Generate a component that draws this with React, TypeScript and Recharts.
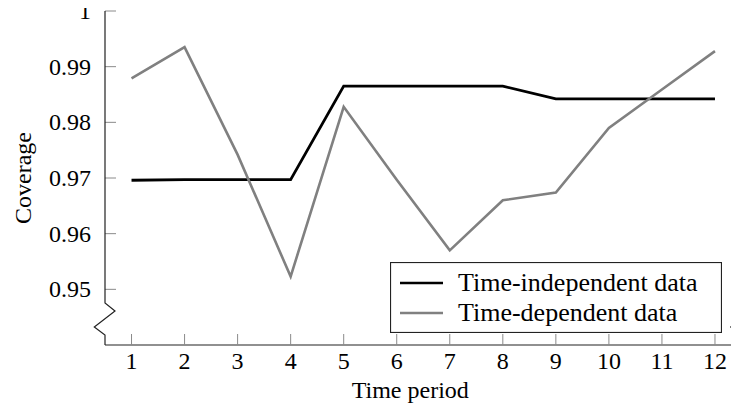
import { LineChart, Line, XAxis, YAxis, Legend, Label } from "recharts"

const periods = [1, 2, 3, 4, 5, 6, 7, 8, 9, 10, 11, 12]
const timeIndependent = [0.9696, 0.9697, 0.9697, 0.9697, 0.9865, 0.9865, 0.9865, 0.9865, 0.9842, 0.9842, 0.9842, 0.9842]
const timeDependent = [0.9879, 0.9935, 0.9742, 0.9523, 0.9828, 0.9697, 0.957, 0.966, 0.9674, 0.979, 0.9859, 0.9928]
const seriesNames = ["Time-independent data", "Time-dependent data"]
const xTicks = periods
const yTicks = [0.95, 0.96, 0.97, 0.98, 0.99, 1]

const data = periods.map((t, i) => ({ t, indep: timeIndependent[i], dep: timeDependent[i] }))

const FONT = '"Liberation Serif", "Times New Roman", "DejaVu Serif", serif'
const txt = { fontFamily: FONT }
const CHART_W = 760
const CHART_H = 414
const MARGIN = { top: 11, right: 18.5, bottom: 0, left: 0 }
const Y_AXIS_W = 105
const X_AXIS_H = 69
const PLOT_LEFT = MARGIN.left + Y_AXIS_W
const PLOT_RIGHT = CHART_W - MARGIN.right
const PLOT_BOTTOM = CHART_H - MARGIN.bottom - X_AXIS_H
const TICK_LEN = 11
const TICK_COLOR = "#8a8a8a"
const FRAME = "#222"

const BottomTick = ({ x, y, payload }: any) => (
  <g>
    <line x1={x} x2={x} y1={y} y2={y - TICK_LEN} stroke={TICK_COLOR} strokeWidth={1} />
    <text x={x} y={y + 24} textAnchor="middle" style={txt} fontSize={24} fill="#000">
      {payload.value}
    </text>
  </g>
)

const TopTick = ({ x, y }: any) => (
  <line x1={x} x2={x} y1={y} y2={y + TICK_LEN} stroke={TICK_COLOR} strokeWidth={1} />
)

const LeftTick = ({ x, y, payload }: any) => (
  <g>
    <line x1={x} x2={x + TICK_LEN} y1={y} y2={y} stroke={TICK_COLOR} strokeWidth={1} />
    <text x={x - 14} y={y + 8} textAnchor="end" style={txt} fontSize={24} fill="#000">
      {String(payload.value)}
    </text>
  </g>
)

const RightTick = ({ x, y }: any) => (
  <line x1={x} x2={x - TICK_LEN} y1={y} y2={y} stroke={TICK_COLOR} strokeWidth={1} />
)

function LegendBox({ payload }: any) {
  const colors: Record<string, string> = {}
  ;(payload || []).forEach((p: any) => (colors[p.value] = p.color))
  const items = seriesNames.map((name, i) => ({ name, color: colors[name] || (i === 0 ? "#000" : "#808080") }))
  return (
    <svg width={332} height={71} style={{ display: "block" }}>
      <rect x={0.5} y={0.5} width={331} height={70} fill="#fff" stroke={FRAME} strokeWidth={1.2} />
      {items.map((it, i) => (
        <g key={it.name}>
          <line x1={10} x2={53} y1={21 + i * 30} y2={21 + i * 30} stroke={it.color} strokeWidth={2.6} />
          <text x={68} y={21 + i * 30 + 8} style={txt} fontSize={26} fill="#000">
            {it.name}
          </text>
        </g>
      ))}
    </svg>
  )
}

// axis breaks (zigzag) on left and right y axes
function Breaks() {
  const yb = PLOT_BOTTOM - 42
  const zig = (x0: number) =>
    `M${x0},${MARGIN.top} L${x0},${yb} L${x0 + 10},${yb + 8} L${x0 - 10.7},${yb + 24} L${x0},${yb + 32} L${x0},${PLOT_BOTTOM}`
  return (
    <svg width={CHART_W} height={CHART_H} style={{ position: "absolute", left: 0, top: 0, pointerEvents: "none" }}>
      <path d={zig(PLOT_LEFT)} fill="none" stroke={FRAME} strokeWidth={1.2} />
      <path d={zig(PLOT_RIGHT)} fill="none" stroke={FRAME} strokeWidth={1.2} />
    </svg>
  )
}

export default function App() {
  return (
    <div style={{ position: "relative", margin: -8, width: 739, height: CHART_H, overflow: "hidden" }}>
      <LineChart width={CHART_W} height={CHART_H} data={data} margin={MARGIN}>
        <XAxis
          dataKey="t"
          type="number"
          domain={[0.5, 12.5]}
          ticks={xTicks}
          interval={0}
          height={X_AXIS_H}
          tickSize={0}
          tickMargin={0}
          tickLine={false}
          tick={<BottomTick />}
          axisLine={{ stroke: FRAME, strokeWidth: 1.2 }}
        >
          <Label
            content={({ viewBox }: any) => (
              <text
                x={viewBox.x + viewBox.width / 2 - 13}
                y={viewBox.y + 53}
                textAnchor="middle"
                style={txt}
                fontSize={24}
                fill="#000"
              >
                Time period
              </text>
            )}
          />
        </XAxis>
        <XAxis
          xAxisId="top"
          orientation="top"
          dataKey="t"
          type="number"
          domain={[0.5, 12.5]}
          ticks={xTicks}
          interval={0}
          height={0}
          tickSize={0}
          tickLine={false}
          tick={<TopTick />}
          axisLine={{ stroke: FRAME, strokeWidth: 1.2 }}
        />
        <YAxis
          type="number"
          domain={[0.94, 1]}
          ticks={yTicks}
          interval={0}
          width={Y_AXIS_W}
          tickSize={0}
          tickMargin={0}
          tickLine={false}
          tick={<LeftTick />}
          axisLine={false}
        >
          <Label
            content={({ viewBox }: any) => {
              const cx = 23
              const cy = viewBox.y + viewBox.height / 2
              return (
                <text
                  x={cx}
                  y={cy}
                  transform={`rotate(-90 ${cx} ${cy})`}
                  textAnchor="middle"
                  dominantBaseline="central"
                  style={txt}
                  fontSize={24}
                  fill="#000"
                >
                  Coverage
                </text>
              )
            }}
          />
        </YAxis>
        <YAxis
          yAxisId="right"
          orientation="right"
          type="number"
          domain={[0.94, 1]}
          ticks={yTicks}
          interval={0}
          width={0}
          tickSize={0}
          tickLine={false}
          tick={<RightTick />}
          axisLine={false}
        />
        <Legend
          layout="horizontal"
          verticalAlign="middle"
          align="center"
          content={<LegendBox />}
          wrapperStyle={{ position: "absolute", left: 390, top: 262, width: 332, height: 71 }}
        />
        <Line
          dataKey="indep"
          name={seriesNames[0]}
          stroke="#000"
          strokeWidth={2.8}
          strokeLinejoin="miter"
          dot={false}
          activeDot={false}
          isAnimationActive={false}
        />
        <Line
          dataKey="dep"
          name={seriesNames[1]}
          stroke="#808080"
          strokeWidth={2.6}
          strokeLinejoin="miter"
          dot={false}
          activeDot={false}
          isAnimationActive={false}
        />
      </LineChart>
      <Breaks />
    </div>
  )
}
